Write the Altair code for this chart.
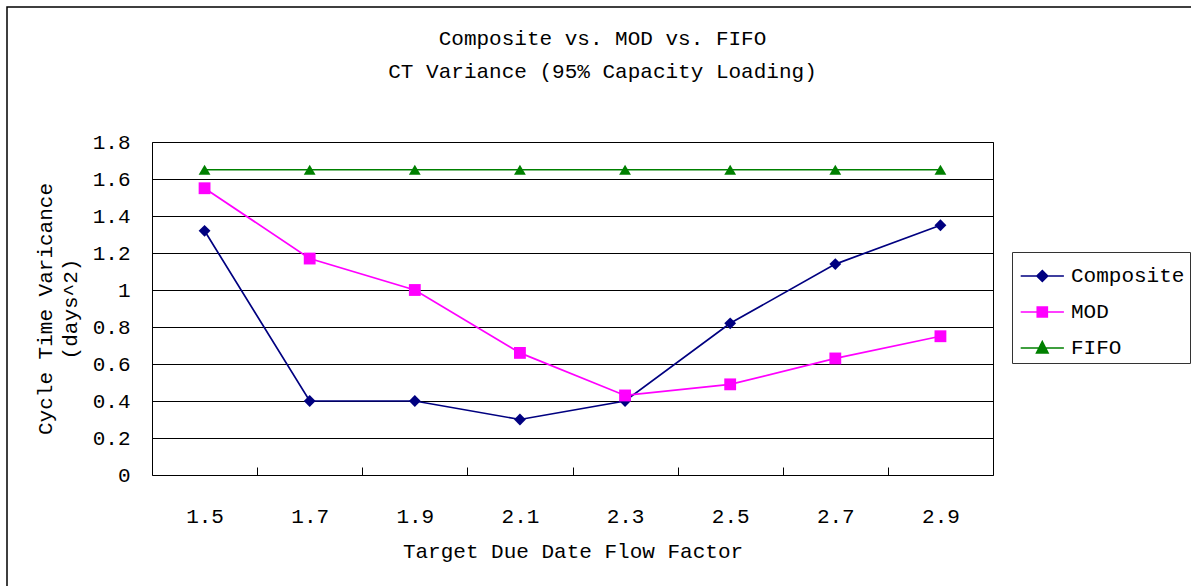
import altair as alt
import pandas as pd

factors = [1.5, 1.7, 1.9, 2.1, 2.3, 2.5, 2.7, 2.9]
composite = [1.32, 0.40, 0.40, 0.30, 0.40, 0.82, 1.14, 1.35]
mod = [1.55, 1.17, 1.00, 0.66, 0.43, 0.49, 0.63, 0.75]
fifo = [1.65, 1.65, 1.65, 1.65, 1.65, 1.65, 1.65, 1.65]
series_names = ["Composite", "MOD", "FIFO"]
series_colors = ["#000080", "#FF00FF", "#008000"]
tick_between = [1.6, 1.8, 2.0, 2.2, 2.4, 2.6, 2.8]
y_ticks = [0, 0.2, 0.4, 0.6, 0.8, 1.0, 1.2, 1.4, 1.6, 1.8]

rows = []
for name, vals in zip(series_names, [composite, mod, fifo]):
    for i, (f, v) in enumerate(zip(factors, vals)):
        rows.append({"factor": f, "value": v, "series": name, "order": i})
df = pd.DataFrame(rows)

FONT = "Liberation Mono"
FS = 21

xscale = alt.Scale(domain=[1.4, 3.0], nice=False, zero=False)
yscale = alt.Scale(domain=[0, 1.8], nice=False)
cscale = alt.Scale(domain=series_names, range=series_colors)

label_expr = "datum.value == 1 ? '1' : (datum.value == 0 ? '0' : format(datum.value, '.1f'))"

base = alt.Chart(df)

lines = base.mark_line(strokeWidth=1.7).encode(
    x=alt.X("factor:Q", scale=xscale,
            axis=alt.Axis(values=factors, format=".1f", ticks=False, domain=False,
                          grid=False, labelPadding=30, title="Target Due Date Flow Factor",
                          titlePadding=14, labelFontSize=FS, titleFontSize=FS,
                          labelFont=FONT, titleFont=FONT, titleFontWeight="normal",
                          labelColor="black", titleColor="black", orient="bottom")),
    y=alt.Y("value:Q", scale=yscale,
            axis=alt.Axis(values=y_ticks, ticks=False, domain=False, grid=True,
                          gridColor="black", gridWidth=1, labelPadding=22,
                          labelExpr=label_expr,
                          title=["Cycle Time Varicance", "(days^2)"],
                          titlePadding=12, labelFontSize=FS, titleFontSize=FS,
                          labelFont=FONT, titleFont=FONT, titleFontWeight="normal",
                          labelColor="black", titleColor="black", titleLineHeight=25)),
    color=alt.Color("series:N", scale=cscale, legend=None),
    order="order:Q",
    detail="series:N",
)

points = base.mark_point(filled=True, size=140, opacity=1).encode(
    x=alt.X("factor:Q", scale=xscale,
            axis=alt.Axis(values=tick_between, labels=False, domain=False, grid=False,
                          ticks=True, tickSize=8, tickColor="black", offset=-8,
                          title=None, orient="bottom")),
    y=alt.Y("value:Q", scale=yscale, axis=None),
    color=alt.Color("series:N", scale=cscale, legend=None),
    shape=alt.Shape("series:N",
                    scale=alt.Scale(domain=series_names,
                                    range=["diamond", "square", "triangle-up"]),
                    legend=None),
)

# legend symbols: line segment plus marker (unit = 18 px)
legend_paths = [
    "M-0.85,0H1.55M0.35,-0.3L0.65,0L0.35,0.3L0.05,0Z",
    "M-0.85,0H1.55M0.07,-0.28H0.63V0.28H0.07Z",
    "M-0.85,0H1.55M0.35,-0.36L0.67,0.27L0.03,0.27Z",
]

legend_color = "scale('color', datum.value)"

legend_layer = base.mark_point(
    opacity=0, filled=True,
    fill=alt.expr(legend_color), stroke=alt.expr(legend_color), strokeWidth=1.6,
).encode(
    x=alt.X("factor:Q", scale=xscale, axis=None),
    y=alt.Y("value:Q", scale=yscale, axis=None),
    shape=alt.Shape("series:N",
                    scale=alt.Scale(domain=series_names, range=legend_paths),
                    legend=alt.Legend(orient="none", legendX=860, legendY=110,
                                      title=None, labelFont=FONT, labelFontSize=FS,
                                      labelColor="black", symbolSize=1296,
                                      symbolStrokeWidth=1.6, symbolOpacity=1,
                                      strokeColor="#333333", fillColor="white",
                                      padding=5, rowPadding=7, labelOffset=16,
                                      labelExpr="datum.label + '  '",
                                      labelLimit=300)),
)

border = alt.Chart(alt.Data(values=[{"a": 1}])).mark_rect(
    fill=None, stroke="black", strokeWidth=1.5
).encode(
    x=alt.value(-145), y=alt.value(-135), x2=alt.value(1200), y2=alt.value(600)
)

chart = alt.layer(border, lines, points, legend_layer).resolve_scale(
    shape="independent"
).resolve_axis(x="independent", y="independent").properties(
    width=841, height=333,
    autosize=alt.AutoSizeParams(type="none"),
    padding={"left": 152, "top": 142, "right": 198, "bottom": 111},
    background="white",
    title=alt.TitleParams(["Composite vs. MOD vs. FIFO", "CT Variance (95% Capacity Loading)"],
                          font=FONT, fontSize=FS, fontWeight="normal", color="black",
                          lineHeight=33, anchor="middle", dx=30, offset=-76,
                          frame="group"),
).configure_view(stroke="black", strokeWidth=1)

chart.save("out.html", embed_options={"renderer": "svg", "actions": False})
